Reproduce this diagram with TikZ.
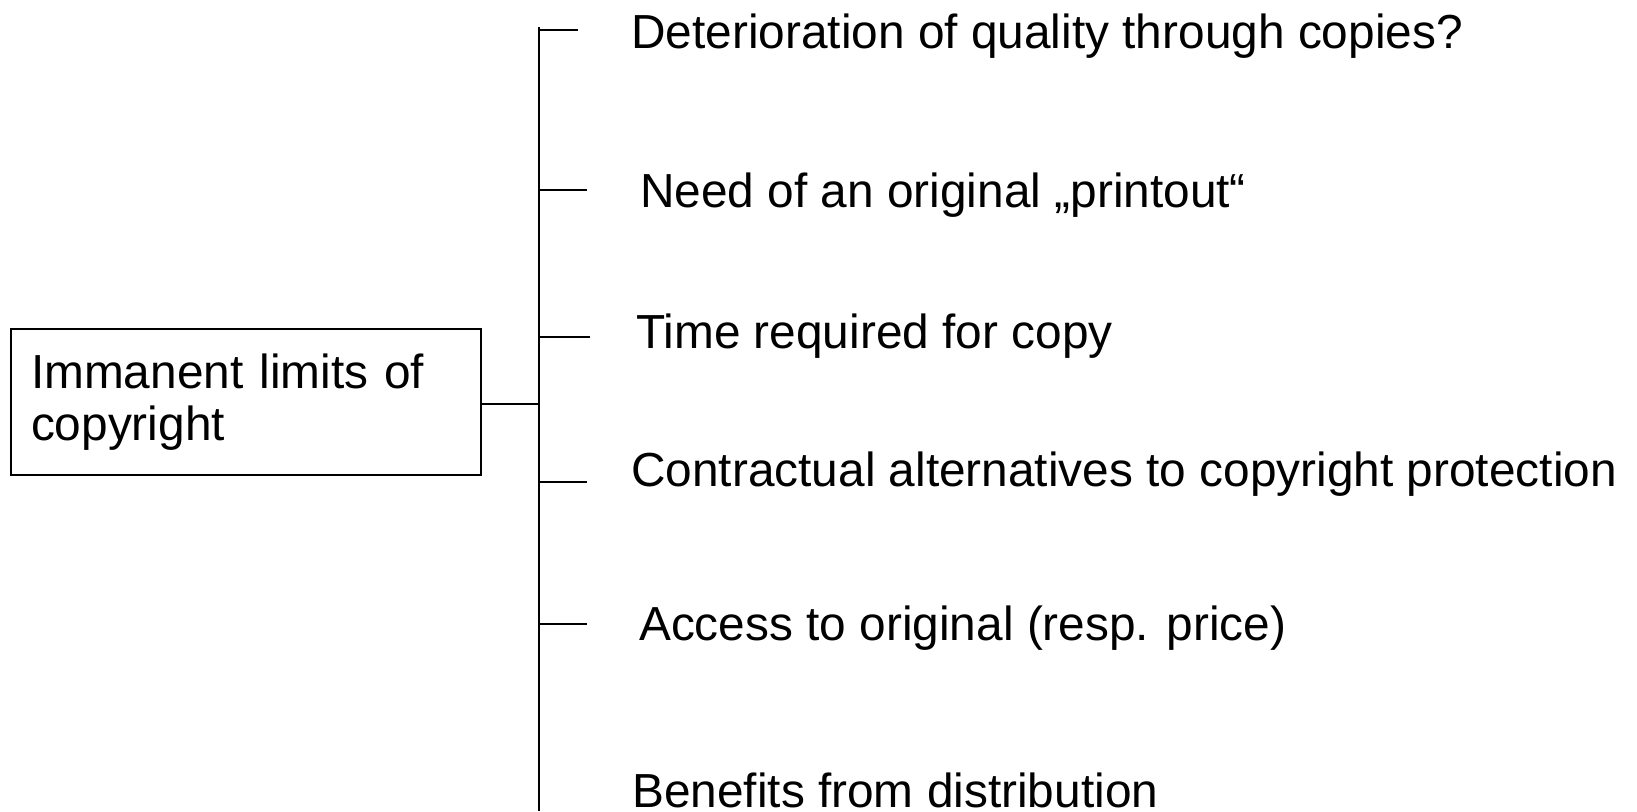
\documentclass[tikz,border=0pt]{standalone}
\usepackage{fontspec}
\setmainfont{Liberation Sans}
\usetikzlibrary{positioning}

\begin{document}
\begin{tikzpicture}[
    x=1pt, y=-1pt,
    topic/.style={rectangle, draw, line width=2.4pt, minimum width=470pt, minimum height=146pt, inner sep=20pt, text width=430pt, align=left, font=\fontsize{47.8}{52}\selectfont},
    item/.style={anchor=base west, inner sep=0pt, font=\fontsize{47.8}{52}\selectfont},
    branch/.style={line width=2pt}
]
    \useasboundingbox (0,0) rectangle (1637,811);

    \node[topic] (limits) at (246,402) {Immanent limits of\\copyright};

    \node[item] (quality) at (631,48) {Deterioration of quality through copies?};
    \node[item] (printout) at (640,207) {Need of an original „printout“};
    \node[item] (time) at (636,348) {Time required for copy};
    \node[item] (contract) at (631,486) {Contractual alternatives to copyright protection};
    \node[item] (access) at (639,640) {Access to original (resp. price)};
    \node[item] (benefits) at (632,807) {Benefits from distribution};

    \coordinate (top) at (539,27);
    \coordinate (bottom) at (539,811);
    \draw[branch] (top) -- (bottom);
    \draw[branch] (limits.east |- 0,404) -- (top |- 0,404);

    \coordinate (quality end) at (578,30);
    \coordinate (printout end) at (587,190);
    \coordinate (time end) at (590,337);
    \coordinate (contract end) at (587,482);
    \coordinate (access end) at (587,624);
    \draw[branch] (quality end -| top) -- (quality end);
    \draw[branch] (printout end -| top) -- (printout end);
    \draw[branch] (time end -| top) -- (time end);
    \draw[branch] (contract end -| top) -- (contract end);
    \draw[branch] (access end -| top) -- (access end);
\end{tikzpicture}
\end{document}
